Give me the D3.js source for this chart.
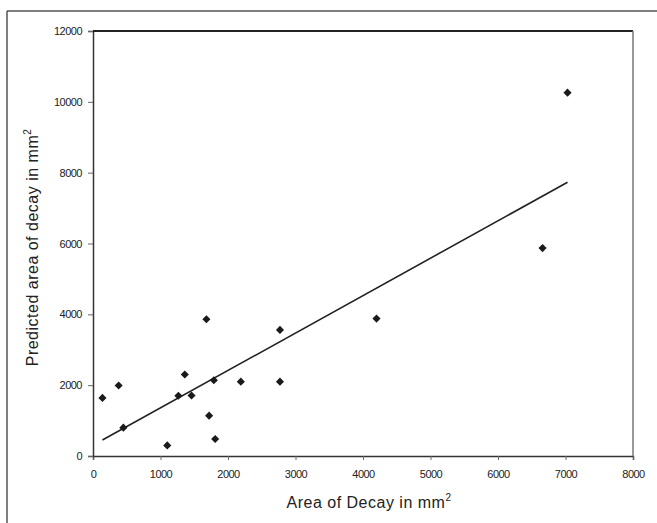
<!DOCTYPE html>
<html>
<head>
<meta charset="utf-8">
<script src="https://cdn.jsdelivr.net/npm/d3@7"></script>
<style>
  body { margin: 0; background: #fff; }
  text { font-family: "Liberation Sans", Arial, sans-serif; fill: #222; }
</style>
</head>
<body>
<div id="chart-area"></div>
<script>
// measured area vs predicted area (mm^2)
var areaDecay = [140, 380, 450, 1100, 1265, 1360, 1460, 1680, 1720, 1790, 1810, 2190, 2770, 2770, 4200, 6660, 7030];
var predicted = [1640, 1990, 800, 300, 1700, 2300, 1710, 3860, 1140, 2140, 480, 2100, 3560, 2100, 3880, 5870, 10260];
// fitted line endpoints
var trendX = [140, 7030];
var trendY = [450, 7730];
var xTicks = [0, 1000, 2000, 3000, 4000, 5000, 6000, 7000, 8000];
var yTicks = [0, 2000, 4000, 6000, 8000, 10000, 12000];

var width = 657,
    height = 523;

var margin = {left: 93, top: 31, right: 24, bottom: 67};

var svg = d3.select("#chart-area")
    .append("svg")
        .attr("width", width)
        .attr("height", height);

// outer frame (left and top only visible)
svg.append("line")
    .attr("x1", 7).attr("y1", 11).attr("x2", width).attr("y2", 11)
    .attr("stroke", "#555").attr("stroke-width", 1.5);
svg.append("line")
    .attr("x1", 7).attr("y1", 11).attr("x2", 7).attr("y2", height)
    .attr("stroke", "#555").attr("stroke-width", 1.5);

var x = d3.scaleLinear()
    .domain([0, 8000])
    .range([margin.left, width - margin.right]);

var y = d3.scaleLinear()
    .domain([0, 12000])
    .range([height - margin.bottom, margin.top]);

var xAxis = svg.append("g")
    .attr("transform", "translate(0," + y(0) + ")")
    .call(d3.axisBottom(x).tickValues(xTicks).tickSize(4).tickPadding(10).tickFormat(d3.format("d")));

var yAxis = svg.append("g")
    .attr("transform", "translate(" + x(0) + ",0)")
    .call(d3.axisLeft(y).tickValues(yTicks).tickSize(5).tickPadding(6).tickFormat(d3.format("d")));

[xAxis, yAxis].forEach(function(g) {
    g.select(".domain").attr("stroke", "#333").attr("stroke-width", 1.5);
    g.selectAll(".tick line").attr("stroke", "#666");
    g.selectAll(".tick text")
        .style("font-size", "11px")
        .style("letter-spacing", "-0.5px")
        .attr("fill", "#333");
});

// top and right of the plot box
svg.append("line")
    .attr("x1", x(0)).attr("y1", y(12000)).attr("x2", x(8000)).attr("y2", y(12000))
    .attr("stroke", "#222").attr("stroke-width", 2.2);
svg.append("line")
    .attr("x1", x(8000)).attr("y1", y(12000)).attr("x2", x(8000)).attr("y2", y(0))
    .attr("stroke", "#777").attr("stroke-width", 1.5);

// regression line
svg.append("line")
    .attr("x1", x(trendX[0])).attr("y1", y(trendY[0]))
    .attr("x2", x(trendX[1])).attr("y2", y(trendY[1]))
    .attr("stroke", "#222")
    .attr("stroke-width", 1.6);

var diamond = d3.symbol().type(d3.symbolDiamond2).size(42);

svg.selectAll(".pt")
    .data(areaDecay)
  .enter().append("path")
    .attr("class", "pt")
    .attr("d", diamond)
    .attr("transform", function(d, i) {
        return "translate(" + x(d) + "," + y(predicted[i]) + ")";
    })
    .attr("fill", "#1a1a1a");

// axis titles
var xt = svg.append("text")
    .attr("x", (x(0) + x(8000)) / 2 + 6)
    .attr("y", 508)
    .attr("text-anchor", "middle")
    .style("font-size", "16px")
    .style("letter-spacing", "0.5px");
xt.append("tspan").text("Area of Decay in mm");
xt.append("tspan").attr("dy", -7).style("font-size", "10px").text("2");

var yt = svg.append("text")
    .attr("transform", "translate(38," + ((y(0) + y(12000)) / 2 + 4) + ") rotate(-90)")
    .attr("text-anchor", "middle")
    .style("font-size", "16px")
    .style("letter-spacing", "0.5px");
yt.append("tspan").text("Predicted area of decay in mm");
yt.append("tspan").attr("dy", -7).style("font-size", "10px").text("2");
</script>
</body>
</html>
